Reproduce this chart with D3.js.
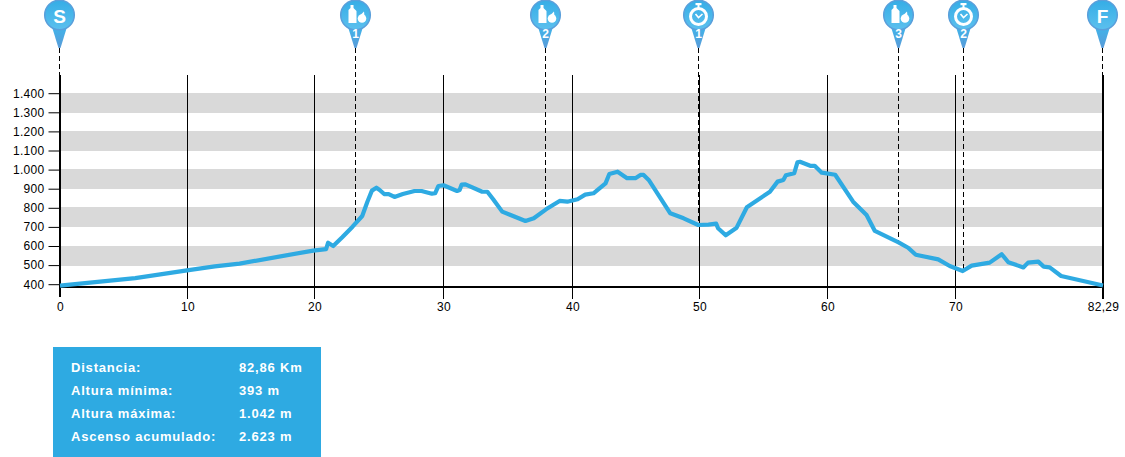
<!DOCTYPE html>
<html>
<head>
<meta charset="utf-8">
<script src="https://cdn.jsdelivr.net/npm/d3@7"></script>
<style>
    html, body { margin: 0; padding: 0; background: #fff; overflow: hidden; }
    text { font-family: "Liberation Sans", Arial, sans-serif; }
    .axis text { font-size: 12px; fill: #000; letter-spacing: 0.3px; }
    .info text { font-size: 13px; font-weight: bold; fill: #fff; letter-spacing: 0.8px; }
</style>
</head>
<body>
<div id="chart"></div>
<script>
// profile
const distance = [0, 5.9, 9.96, 12.15, 14.1, 19.9, 20.9, 21.05, 21.45, 22.15, 22.95, 23.7, 24.1, 24.45, 24.8, 25.05, 25.4, 25.75, 26.2, 26.85, 27.75, 28.3, 29.1, 29.35, 29.6, 30, 31.05, 31.25, 31.4, 31.7, 33, 33.4, 33.85, 34.55, 35.2, 36.35, 37, 37.95, 39, 39.6, 40.4, 41, 41.65, 42.6, 42.9, 43.55, 44.3, 44.95, 45.35, 45.6, 46, 47.7, 48.75, 49.9, 50.7, 51.3, 51.45, 52.05, 52.9, 53.7, 55.5, 56.1, 56.55, 56.75, 57.4, 57.65, 57.85, 58.65, 59, 59.55, 60.6, 62, 63.05, 63.7, 65.55, 66.3, 66.9, 68.65, 69.55, 70.6, 71.35, 72.85, 73.85, 74.4, 75.65, 76.05, 76.9, 77.35, 77.85, 78.8, 82.29];
const altitude = [393, 432, 472, 493, 508, 576, 584, 617, 600, 646, 701, 757, 832, 890, 905, 893, 872, 872, 857, 872, 888, 888, 874, 876, 914, 918, 888, 893, 921, 923, 884, 884, 845, 780, 762, 731, 745, 792, 836, 832, 845, 869, 876, 928, 977, 989, 955, 955, 972, 972, 946, 771, 745, 710, 712, 717, 693, 656, 696, 803, 884, 937, 946, 970, 981, 1038, 1041, 1020, 1020, 984, 973, 832, 762, 679, 619, 591, 554, 530, 495, 469, 497, 513, 557, 515, 488, 513, 518, 492, 488, 443, 393];

const xTicks = [0, 10, 20, 30, 40, 50, 60, 70, 82.29];
const yTicks = [400, 500, 600, 700, 800, 900, 1000, 1100, 1200, 1300, 1400];
const bandStarts = [500, 700, 900, 1100, 1300];

const markerKm = [0, 23.15, 37.9, 49.95, 65.55, 70.65, 82.29];
const markerType = ["S", "bottle", "bottle", "watch", "bottle", "watch", "F"];
const markerNum = ["", "1", "2", "1", "3", "2", ""];

const infoLabels = ["Distancia:", "Altura mínima:", "Altura máxima:", "Ascenso acumulado:"];
const infoValues = ["82,86 Km", "393 m", "1.042 m", "2.623 m"];

const width = 1125;
const height = 457;
const axisTop = 75;
const axisBottom = 287;

const svg = d3.select("#chart").append("svg")
    .attr("width", width)
    .attr("height", height)
    .style("display", "block");

// the original axis is not quite even, so the scale goes tick by tick
const x = d3.scaleLinear()
    .domain(xTicks)
    .range([60, 187.5, 314.5, 443.5, 572.5, 699.5, 827.5, 955.5, 1103]);
const y = d3.scaleLinear().domain([400, 1400]).range([284.2, 93.2]);
const snap = px => Math.floor(px - 0.01) + 0.5;

const defs = svg.append("defs");
const headGrad = defs.append("linearGradient").attr("id", "head-grad")
    .attr("x1", 0).attr("y1", 0).attr("x2", 0).attr("y2", 1);
headGrad.append("stop").attr("offset", 0).attr("stop-color", "#35ade6");
headGrad.append("stop").attr("offset", 1).attr("stop-color", "#5cc0ee");
const tipGrad = defs.append("linearGradient").attr("id", "tip-grad")
    .attr("x1", 0).attr("y1", 0).attr("x2", 0).attr("y2", 1);
tipGrad.append("stop").attr("offset", 0).attr("stop-color", "#3fb4ea");
tipGrad.append("stop").attr("offset", 1).attr("stop-color", "#5a9bd8");

// grey bands
svg.append("g").selectAll("rect")
    .data(bandStarts)
    .enter()
    .append("rect")
    .attr("x", x(0))
    .attr("width", x(82.29) - x(0))
    .attr("y", d => Math.floor(y(d + 100)))
    .attr("height", d => Math.ceil(y(d)) - Math.floor(y(d + 100)))
    .attr("fill", "#d9d9d9");

// vertical grid lines, thick at both ends
svg.append("g").selectAll("line")
    .data(xTicks)
    .enter()
    .append("line")
    .attr("x1", d => x(d))
    .attr("x2", d => x(d))
    .attr("y1", axisTop)
    .attr("y2", (d, i) => axisBottom + (i === 0 ? 10 : 12))
    .attr("stroke", "#000")
    .attr("stroke-width", (d, i) => (i === 0 || i === xTicks.length - 1) ? 2 : 1);

// axes
const yAxis = d3.axisLeft(y)
    .tickValues(yTicks)
    .tickSize(11)
    .tickPadding(4)
    .tickFormat(d => d3.format(",")(d).replace(",", "."));
svg.append("g")
    .attr("class", "axis")
    .attr("transform", `translate(${x(0) - 0.5}, 0)`)
    .call(yAxis)
    .call(g => g.select(".domain").remove());

const xAxis = d3.axisBottom(x)
    .tickValues(xTicks)
    .tickSize(0)
    .tickPadding(15)
    .tickFormat(d => String(d).replace(".", ","));
svg.append("g")
    .attr("class", "axis")
    .attr("transform", `translate(0, ${axisBottom})`)
    .call(xAxis)
    .call(g => g.select(".domain").remove());

svg.append("line")
    .attr("x1", x(0) - 1)
    .attr("x2", x(82.29) + 1)
    .attr("y1", axisBottom)
    .attr("y2", axisBottom)
    .attr("stroke", "#000")
    .attr("stroke-width", 2);

// altitude under a marker, for the dashed drop lines
const altAt = d3.scaleLinear().domain(distance).range(altitude);

svg.append("g").selectAll("line")
    .data(markerKm)
    .enter()
    .append("line")
    .attr("x1", d => snap(x(d)))
    .attr("x2", d => snap(x(d)))
    .attr("y1", 48)
    .attr("y2", (d, i) => (i === 0 || i === markerKm.length - 1) ? axisTop : y(altAt(d)))
    .attr("stroke", "#000")
    .attr("stroke-width", 1)
    .attr("stroke-dasharray", "5,3");

// profile line
const line = d3.line()
    .x(d => x(d[0]))
    .y(d => y(d[1]));
svg.append("path")
    .datum(d3.zip(distance, altitude))
    .attr("d", line)
    .attr("fill", "none")
    .attr("stroke", "#2eaae2")
    .attr("stroke-width", 4.2)
    .attr("stroke-linejoin", "round");

// markers
function drawBottle(g) {
    g.append("path")
        .attr("d", "M-5,5 L-2,5 L-2,8 L1,11 L1,23 L-7,23 L-7,10 L-5,8 Z")
        .attr("fill", "#fff");
    g.append("circle").attr("cx", 6.5).attr("cy", 18.5).attr("r", 4.3).attr("fill", "#fff");
    g.append("path").attr("d", "M5,15 L8.5,11.5 L9,16 Z").attr("fill", "#fff");
}

function drawWatch(g) {
    g.append("circle").attr("cx", 0).attr("cy", 16.5).attr("r", 8)
        .attr("fill", "none").attr("stroke", "#fff").attr("stroke-width", 3);
    g.append("path").attr("d", "M-3,14 L0,17.5 L4,14")
        .attr("fill", "none").attr("stroke", "#fff").attr("stroke-width", 1.6);
    g.append("rect").attr("x", -3).attr("y", 3).attr("width", 6).attr("height", 2.2).attr("fill", "#fff");
    g.append("rect").attr("x", -1).attr("y", 5).attr("width", 2).attr("height", 3).attr("fill", "#fff");
}

const marker = svg.append("g").selectAll("g")
    .data(markerKm)
    .enter()
    .append("g")
    .attr("transform", d => `translate(${snap(x(d))}, 0)`);

marker.append("path")
    .attr("d", "M-7.5,27 L7.5,27 L1,48 L-1,48 Z")
    .attr("fill", "url(#tip-grad)");

marker.append("circle")
    .attr("cx", 0)
    .attr("cy", 15)
    .attr("r", 14.8)
    .attr("fill", "url(#head-grad)")
    .attr("stroke", "#5a9fdb")
    .attr("stroke-width", 1.5);

marker.each(function(d, i) {
    const g = d3.select(this);
    const type = markerType[i];
    if (type === "bottle") drawBottle(g);
    else if (type === "watch") drawWatch(g);
    else {
        g.append("text")
            .attr("x", 0)
            .attr("y", 23)
            .attr("text-anchor", "middle")
            .attr("font-size", 19)
            .attr("font-weight", "bold")
            .attr("fill", "#fff")
            .text(type);
    }
    if (markerNum[i]) {
        g.append("text")
            .attr("x", 0)
            .attr("y", 38)
            .attr("text-anchor", "middle")
            .attr("font-size", 12)
            .attr("font-weight", "bold")
            .attr("fill", "#fff")
            .text(markerNum[i]);
    }
});

// info box
const info = svg.append("g").attr("class", "info");
info.append("rect")
    .attr("x", 53)
    .attr("y", 347)
    .attr("width", 268)
    .attr("height", 110)
    .attr("fill", "#2eaae2");
info.selectAll("text.label")
    .data(infoLabels)
    .enter()
    .append("text")
    .attr("class", "label")
    .attr("x", 71)
    .attr("y", (d, i) => 372 + i * 23)
    .text(d => d);
info.selectAll("text.value")
    .data(infoValues)
    .enter()
    .append("text")
    .attr("class", "value")
    .attr("x", 239)
    .attr("y", (d, i) => 372 + i * 23)
    .text(d => d);
</script>
</body>
</html>
